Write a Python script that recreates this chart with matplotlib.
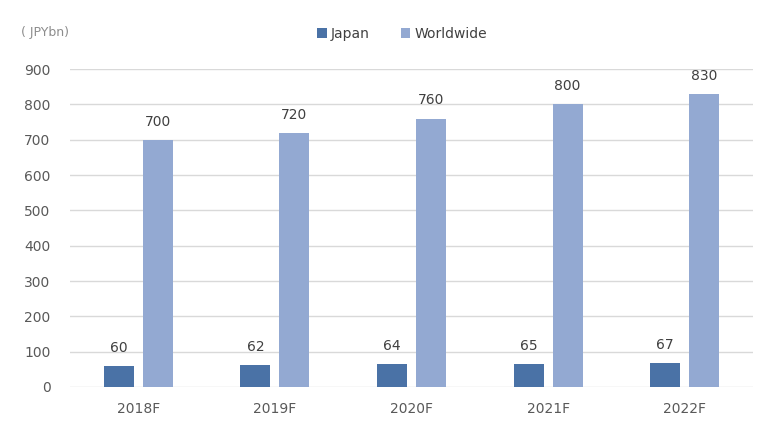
import numpy as np
import matplotlib.pyplot as plt

# ── Data ──────────────────────────────────────────────────────────────────────
years = ["2018F", "2019F", "2020F", "2021F", "2022F"]
japan = [60, 62, 64, 65, 67]
worldwide = [700, 720, 760, 800, 830]

C_JAPAN = "#4a72a6"
C_WORLD = "#93a9d2"
C_TEXT = "#595959"
C_GRID = "#d9d9d9"

plt.rcParams.update({
    "font.family": "DejaVu Sans",
    "font.size": 10,
})

fig = plt.figure(figsize=(7.63, 4.24), dpi=100, facecolor="white")
ax = fig.add_axes([0.0917, 0.0873, 0.8953, 0.7497])

x = np.arange(len(years))
w = 0.22
off = 0.143

b1 = ax.bar(x - off, japan, width=w, color=C_JAPAN, label="Japan", zorder=3)
b2 = ax.bar(x + off, worldwide, width=w, color=C_WORLD, label="Worldwide", zorder=3)

for bars, vals in [(b1, japan), (b2, worldwide)]:
    for rect, v in zip(bars, vals):
        ax.annotate(str(v), (rect.get_x() + rect.get_width() / 2, v),
                    xytext=(0, 8), textcoords="offset points",
                    ha="center", va="bottom", color="#404040", fontsize=10)

ax.set_xlim(-0.5, len(years) - 0.5)
ax.set_ylim(0, 900)
ax.set_yticks(range(0, 901, 100))
ax.set_xticks(x)
ax.set_xticklabels(years)
ax.tick_params(axis="both", length=0, colors=C_TEXT, labelsize=10)
ax.tick_params(axis="y", pad=14)
ax.tick_params(axis="x", pad=11)
ax.yaxis.grid(True, color=C_GRID, linewidth=1.0)
ax.set_axisbelow(True)
for s in ax.spines.values():
    s.set_visible(False)

fig.text(0.027, 0.924, "( JPYbn)", color="#8c8c8c", fontsize=9, va="center")

fig.legend(handles=[b1, b2], loc="center", bbox_to_anchor=(0.527, 0.92),
           ncol=2, frameon=False, fontsize=10, handlelength=0.7,
           handleheight=0.7, handletextpad=0.3, columnspacing=2.2,
           labelcolor="#404040")

fig.savefig("out.png", dpi=100, facecolor="white")
